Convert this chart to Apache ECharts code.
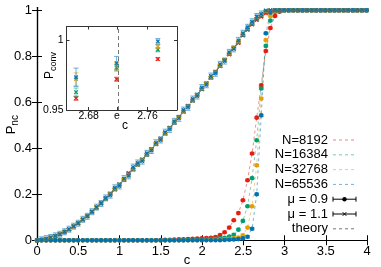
<!DOCTYPE html>
<html><head><meta charset="utf-8">
<script src="https://cdn.jsdelivr.net/npm/echarts@6/dist/echarts.min.js"></script>
<style>html,body{margin:0;padding:0;background:#fff}#c{width:381px;height:267px}</style>
</head><body><div id="c"></div>
<script>
// ---------------- data ----------------
const cValues = [
  0,0.055,0.111,0.166,0.222,0.277,0.333,0.388,0.444,0.499,
  0.555,0.610,0.666,0.721,0.777,0.832,0.888,0.943,0.999,1.054,
  1.110,1.165,1.220,1.276,1.331,1.387,1.442,1.498,1.553,1.609,
  1.664,1.720,1.775,1.831,1.886,1.942,1.997,2.053,2.108,2.164,
  2.219,2.274,2.330,2.385,2.441,2.496,2.552,2.607,2.663,2.718,
  2.774,2.829,2.885,2.940,2.996,3.051,3.107,3.162,3.218,3.273,
  3.329,3.384,3.439,3.495,3.550,3.606,3.661,3.717,3.772,3.828,
  3.883,3.939,3.994];

const sizeNames = ['N=8192','N=16384','N=32768','N=65536'];

// mu = 0.9 (filled circles)
const p09_N8192 = [
  0,0,0,0,0,0,0,0,0,0,
  0,0,0,0,0,0,0,0,0,0,
  0,0,0,0,0,0,0,0.001,0.002,0.002,
  0.003,0.004,0.004,0.005,0.006,0.007,0.008,0.009,0.011,0.014,
  0.023,0.035,0.055,0.087,0.118,0.174,0.261,0.377,0.533,0.674,
  0.823,0.923,0.975,0.994,1,1,1,1,1,1,
  1,1,1,1,1,1,1,1,1,1,
  1,1,1];
const p09_N16384 = [
  0,0,0,0,0,0,0,0,0,0,
  0,0,0,0,0,0,0,0,0,0,
  0,0,0,0,0,0,0,0,0,0,
  0,0,0,0.001,0.002,0.002,0.003,0.004,0.005,0.006,
  0.008,0.011,0.016,0.024,0.046,0.084,0.148,0.270,0.435,0.660,
  0.845,0.955,0.993,1,1,1,1,1,1,1,
  1,1,1,1,1,1,1,1,1,1,
  1,1,1];
const p09_N32768 = [
  0,0,0,0,0,0,0,0,0,0,
  0,0,0,0,0,0,0,0,0,0,
  0,0,0,0,0,0,0,0,0,0,
  0,0,0,0,0,0,0,0.001,0.001,0.002,
  0.003,0.004,0.006,0.008,0.012,0.022,0.055,0.148,0.326,0.616,
  0.870,0.975,0.997,1,1,1,1,1,1,1,
  1,1,1,1,1,1,1,1,1,1,
  1,1,1];
const p09_N65536 = [
  0,0,0,0,0,0,0,0,0,0,
  0,0,0,0,0,0,0,0,0,0,
  0,0,0,0,0,0,0,0,0,0,
  0,0,0,0,0,0,0,0,0,0,
  0,0.001,0.002,0.003,0.005,0.008,0.015,0.050,0.200,0.543,
  0.900,0.990,1,1,1,1,1,1,1,1,
  1,1,1,1,1,1,1,1,1,1,
  1,1,1];

// mu = 1.1 (crosses)
const p11_N8192 = [
  0,0.002,0.006,0.012,0.019,0.027,0.037,0.047,0.061,0.075,
  0.090,0.106,0.125,0.143,0.162,0.183,0.203,0.222,0.243,0.266,
  0.292,0.309,0.330,0.351,0.373,0.396,0.419,0.440,0.466,0.489,
  0.512,0.536,0.560,0.584,0.608,0.632,0.656,0.681,0.706,0.731,
  0.757,0.782,0.808,0.834,0.858,0.890,0.915,0.938,0.958,0.972,
  0.987,0.998,1,1,1,1,1,1,1,1,
  1,1,1,1,1,1,1,1,1,1,
  1,1,1];
const p11_N16384 = [
  0,0.002,0.006,0.011,0.018,0.026,0.035,0.047,0.060,0.073,
  0.089,0.105,0.122,0.141,0.161,0.180,0.200,0.221,0.242,0.262,
  0.284,0.306,0.327,0.350,0.372,0.394,0.418,0.442,0.464,0.487,
  0.511,0.535,0.559,0.583,0.607,0.633,0.657,0.682,0.708,0.733,
  0.758,0.784,0.811,0.836,0.862,0.893,0.918,0.942,0.963,0.980,
  0.993,1,1,1,1,1,1,1,1,1,
  1,1,1,1,1,1,1,1,1,1,
  1,1,1];
const p11_N32768 = [
  0,0.002,0.006,0.012,0.018,0.026,0.036,0.047,0.059,0.074,
  0.089,0.104,0.123,0.142,0.160,0.181,0.201,0.220,0.241,0.263,
  0.285,0.305,0.328,0.349,0.371,0.395,0.417,0.441,0.463,0.487,
  0.510,0.534,0.558,0.582,0.606,0.631,0.657,0.681,0.706,0.732,
  0.758,0.785,0.810,0.837,0.862,0.896,0.921,0.946,0.972,0.981,
  0.996,1,1,1,1,1,1,1,1,1,
  1,1,1,1,1,1,1,1,1,1,
  1,1,1];
const p11_N65536 = [
  0,0.002,0.007,0.012,0.019,0.026,0.037,0.048,0.061,0.074,
  0.091,0.104,0.124,0.144,0.160,0.184,0.196,0.228,0.236,0.268,
  0.280,0.318,0.336,0.344,0.378,0.390,0.424,0.436,0.470,0.482,
  0.517,0.530,0.566,0.578,0.614,0.627,0.664,0.676,0.714,0.726,
  0.765,0.779,0.817,0.832,0.869,0.900,0.926,0.950,0.973,0.984,
  0.999,1,1,1,1,1,1,1,1,1,
  1,1,1,1,1,1,1,1,1,1,
  1,1,1];

const theoryP = [
  0,0.002,0.006,0.012,0.018,0.026,0.036,0.047,0.060,0.074,
  0.089,0.105,0.123,0.142,0.161,0.181,0.201,0.221,0.242,0.263,
  0.285,0.306,0.328,0.350,0.372,0.395,0.418,0.441,0.464,0.487,
  0.511,0.535,0.559,0.583,0.607,0.632,0.657,0.682,0.707,0.732,
  0.758,0.784,0.810,0.836,0.861,0.893,0.919,0.944,0.967,0.988,
  1,1,1,1,1,1,1,1,1,1,
  1,1,1,1,1,1,1,1,1,1,
  1,1,1];

const err09 = [0.004, 0.004, 0.004, 0.005];
const err11 = [0.004, 0.004, 0.005, 0.013];

// inset: P_conv near c = e
const insetC = [2.663, 2.718, 2.774];
const inset_N8192  = [0.9584, 0.9721, 0.9866];
const inset_N16384 = [0.9628, 0.9805, 0.9933];
const inset_N32768 = [0.9722, 0.9812, 0.9957];
const inset_N65536 = [0.9735, 0.9837, 0.9993];
const insetErr_N8192  = [0.0015, 0.0015, 0.0010];
const insetErr_N16384 = [0.0030, 0.0025, 0.0015];
const insetErr_N32768 = [0.0045, 0.0030, 0.0015];
const insetErr_N65536 = [0.0066, 0.0048, 0.0020];

const yTicks = [0, 0.2, 0.4, 0.6, 0.8, 1];
const insetXTicks = [2.68, Math.E, 2.76];
const insetYTicks = [0.95, 1];

// ---------------- style ----------------
const colors = ['#e51e10', '#009e73', '#e69f00', '#0072b2'];
const FONT = 'Liberation Sans, Arial, Helvetica, sans-serif';

function makeRender(color, kind, clamp) {
  return function (params, api) {
    const x = api.value(0), y = api.value(1), e = api.value(2);
    const p = api.coord([x, y]);
    const ch = [];
    const drawBar = clamp ? (e > 0 && y > 0 && y < 1) : e > 0;
    if (drawBar) {
      const yl = clamp ? Math.max(y - e, 0) : y - e;
      const yh = clamp ? Math.min(y + e, 1) : y + e;
      const lo = api.coord([x, yl])[1];
      const hi = api.coord([x, yh])[1];
      const bs = {stroke: color, lineWidth: 1, opacity: 0.55};
      const cw = 2.5;
      ch.push({type: 'line', shape: {x1: p[0], y1: lo, x2: p[0], y2: hi}, style: bs});
      ch.push({type: 'line', shape: {x1: p[0] - cw, y1: lo, x2: p[0] + cw, y2: lo}, style: bs});
      ch.push({type: 'line', shape: {x1: p[0] - cw, y1: hi, x2: p[0] + cw, y2: hi}, style: bs});
    }
    if (kind === 'dot') {
      ch.push({type: 'circle', shape: {cx: p[0], cy: p[1], r: 2.3}, style: {fill: color}});
    } else {
      const s = 1.8;
      const xs = {stroke: color, lineWidth: 1.2};
      ch.push({type: 'line', shape: {x1: p[0] - s, y1: p[1] - s, x2: p[0] + s, y2: p[1] + s}, style: xs});
      ch.push({type: 'line', shape: {x1: p[0] - s, y1: p[1] + s, x2: p[0] + s, y2: p[1] - s}, style: xs});
    }
    return {type: 'group', children: ch};
  };
}

const p09 = [p09_N8192, p09_N16384, p09_N32768, p09_N65536];
const p11 = [p11_N8192, p11_N16384, p11_N32768, p11_N65536];
const insetP = [inset_N8192, inset_N16384, inset_N32768, inset_N65536];
const insetE = [insetErr_N8192, insetErr_N16384, insetErr_N32768, insetErr_N65536];

const series = [];
function addSet(arrs, errs, kind) {
  arrs.forEach((arr, i) => {
    series.push({
      type: 'line', xAxisIndex: 0, yAxisIndex: 0, silent: true,
      data: cValues.map((c, j) => [c, arr[j]]),
      showSymbol: false, symbol: 'none',
      lineStyle: {color: colors[i], width: 1, type: [3, 3], opacity: 0.5},
      z: 2
    });
  });
  arrs.forEach((arr, i) => {
    series.push({
      type: 'custom', xAxisIndex: 0, yAxisIndex: 0, silent: true,
      renderItem: makeRender(colors[i], kind, true),
      encode: {x: 0, y: 1},
      data: cValues.map((c, j) => [c, arr[j], errs[i]]),
      z: 3
    });
  });
}
addSet(p09, err09, 'dot');
addSet(p11, err11, 'cross');

series.push({
  type: 'line', xAxisIndex: 0, yAxisIndex: 0, silent: true,
  data: cValues.map((c, j) => [c, theoryP[j]]),
  showSymbol: false, symbol: 'none',
  lineStyle: {color: '#666', width: 0.8, type: [3, 3]},
  z: 4
});

insetP.forEach((arr, i) => {
  const s = {
    type: 'custom', xAxisIndex: 2, yAxisIndex: 2, silent: true,
    renderItem: makeRender(colors[i], 'cross', false),
    encode: {x: 0, y: 1},
    data: insetC.map((c, j) => [c, arr[j], insetE[i][j]]),
    z: 6
  };
  if (i === 0) {
    s.markLine = {
      silent: true, symbol: ['none', 'none'], label: {show: false},
      lineStyle: {color: '#777', type: [4, 3], width: 1},
      data: [{xAxis: Math.E}], animation: false
    };
  }
  series.push(s);
});

const axLine = {show: true, lineStyle: {color: '#000', width: 1.2}};
const inLine = {show: true, lineStyle: {color: '#333', width: 1}};

const option = {
  animation: false,
  backgroundColor: '#fff',
  textStyle: {fontFamily: FONT},
  grid: [
    {left: 37, right: 14, top: 7.5, bottom: 24, containLabel: false, outerBoundsMode: 'none'},
    {left: 66.5, top: 26.5, width: 110.5, height: 83.5, show: true, backgroundColor: '#fff', borderWidth: 0, z: 5,
     containLabel: false, outerBoundsMode: 'none'}
  ],
  xAxis: [
    {type: 'value', gridIndex: 0, min: 0, max: 4, interval: 0.5, position: 'bottom',
     axisLine: axLine, axisTick: {inside: true, length: 5, lineStyle: {color: '#000'}},
     axisLabel: {color: '#000', fontSize: 13, margin: 2, fontFamily: FONT},
     splitLine: {show: false}},
    {type: 'value', gridIndex: 0, min: 0, max: 4, interval: 0.5, position: 'top',
     axisLine: axLine, axisTick: {inside: true, length: 5, lineStyle: {color: '#000'}},
     axisLabel: {show: false}, splitLine: {show: false}},
    {type: 'value', gridIndex: 1, min: 2.65, max: 2.80, position: 'bottom', z: 6,
     axisLine: inLine,
     axisTick: {inside: true, length: 3, customValues: insetXTicks, lineStyle: {color: '#333'}},
     axisLabel: {color: '#000', fontSize: 10.5, margin: 1, fontFamily: FONT, customValues: insetXTicks,
       formatter: v => Math.abs(v - Math.E) < 1e-6 ? 'e' : v.toFixed(2)},
     splitLine: {show: false}},
    {type: 'value', gridIndex: 1, min: 2.65, max: 2.80, position: 'top', z: 6,
     axisLine: inLine,
     axisTick: {inside: true, length: 3, customValues: insetXTicks, lineStyle: {color: '#333'}},
     axisLabel: {show: false}, splitLine: {show: false}}
  ],
  yAxis: [
    {type: 'value', gridIndex: 0, min: -0.012, max: 1.012, position: 'left',
     axisLine: axLine,
     axisTick: {inside: true, length: 5, customValues: yTicks, lineStyle: {color: '#000'}},
     axisLabel: {color: '#000', fontSize: 13, margin: 5, fontFamily: FONT, customValues: yTicks},
     splitLine: {show: false}},
    {type: 'value', gridIndex: 0, min: -0.012, max: 1.012, position: 'right',
     axisLine: axLine,
     axisTick: {inside: true, length: 5, customValues: yTicks, lineStyle: {color: '#000'}},
     axisLabel: {show: false}, splitLine: {show: false}},
    {type: 'value', gridIndex: 1, min: 0.95, max: 1.01, position: 'left', z: 6,
     axisLine: inLine,
     axisTick: {inside: true, length: 3, customValues: insetYTicks, lineStyle: {color: '#333'}},
     axisLabel: {color: '#000', fontSize: 10.5, margin: 3, fontFamily: FONT, customValues: insetYTicks},
     splitLine: {show: false}},
    {type: 'value', gridIndex: 1, min: 0.95, max: 1.01, position: 'right', z: 6,
     axisLine: inLine,
     axisTick: {inside: true, length: 3, customValues: insetYTicks, lineStyle: {color: '#333'}},
     axisLabel: {show: false}, splitLine: {show: false}}
  ],
  series: series
};

// legend and axis titles drawn as graphic elements
const legendLabels = sizeNames.concat(['\u03bc = 0.9', '\u03bc = 1.1', 'theory']);
const lgX = 328, lgY0 = 140, lgStep = 14.8, icX1 = 333, icX2 = 356;
const graphic = [];
legendLabels.forEach((t, i) => {
  const y = lgY0 + i * lgStep;
  graphic.push({type: 'text', x: lgX, y: y, z: 10, silent: true,
    style: {text: t, align: 'right', verticalAlign: 'middle', font: '13px ' + FONT, fill: '#000'}});
  if (i < 4) {
    graphic.push({type: 'line', z: 10, silent: true, shape: {x1: icX1, y1: y, x2: icX2, y2: y},
      style: {stroke: colors[i], lineWidth: 1, lineDash: [3, 3], opacity: 0.55}});
  } else if (i < 6) {
    const st = {stroke: '#000', lineWidth: 1};
    graphic.push({type: 'line', z: 10, silent: true, shape: {x1: icX1, y1: y, x2: icX2, y2: y}, style: st});
    graphic.push({type: 'line', z: 10, silent: true, shape: {x1: icX1, y1: y - 2.5, x2: icX1, y2: y + 2.5}, style: st});
    graphic.push({type: 'line', z: 10, silent: true, shape: {x1: icX2, y1: y - 2.5, x2: icX2, y2: y + 2.5}, style: st});
    const mx = (icX1 + icX2) / 2;
    if (i === 4) {
      graphic.push({type: 'circle', z: 10, silent: true, shape: {cx: mx, cy: y, r: 2.2}, style: {fill: '#000'}});
    } else {
      graphic.push({type: 'line', z: 10, silent: true, shape: {x1: mx - 1.8, y1: y - 1.8, x2: mx + 1.8, y2: y + 1.8}, style: st});
      graphic.push({type: 'line', z: 10, silent: true, shape: {x1: mx - 1.8, y1: y + 1.8, x2: mx + 1.8, y2: y - 1.8}, style: st});
    }
  } else {
    graphic.push({type: 'line', z: 10, silent: true, shape: {x1: icX1, y1: y, x2: icX2, y2: y},
      style: {stroke: '#777', lineWidth: 1, lineDash: [3, 3]}});
  }
});

// axis titles
graphic.push({type: 'text', x: 187, y: 260, z: 10, silent: true,
  style: {text: 'c', align: 'center', verticalAlign: 'middle', font: '13px ' + FONT, fill: '#000'}});
graphic.push({type: 'text', x: 125, y: 125.5, z: 10, silent: true,
  style: {text: 'c', align: 'center', verticalAlign: 'middle', font: '12px ' + FONT, fill: '#000'}});
function rotatedSub(cx, cy, main, sub, fMain, fSub, subDrop) {
  const wMain = fMain * 0.667, wSub = sub.length * fSub * 0.5;
  const start = -(wMain + wSub) / 2;
  return {
    type: 'group', x: cx, y: cy, rotation: Math.PI / 2, z: 10, silent: true,
    children: [
      {type: 'text', x: start, y: 0, silent: true,
       style: {text: main, align: 'left', verticalAlign: 'middle', font: fMain + 'px ' + FONT, fill: '#000'}},
      {type: 'text', x: start + wMain, y: subDrop, silent: true,
       style: {text: sub, align: 'left', verticalAlign: 'middle', font: fSub + 'px ' + FONT, fill: '#000'}}
    ]
  };
}
graphic.push(rotatedSub(11, 125, 'P', 'nc', 13, 10, 4));
graphic.push(rotatedSub(50, 66, 'P', 'conv', 12, 9, 3.5));
option.graphic = graphic;

const chart = echarts.init(document.getElementById('c'), null, {renderer: 'canvas'});
chart.setOption(option);
</script>
</body></html>
